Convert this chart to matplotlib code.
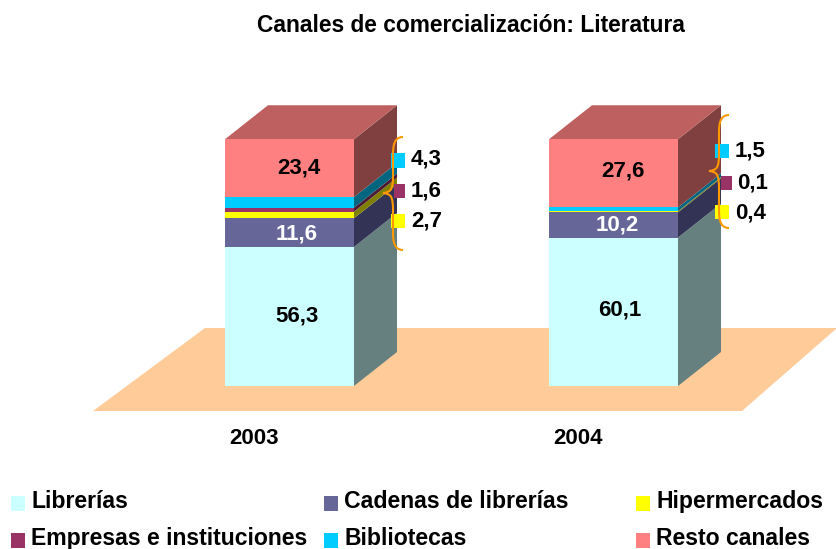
import matplotlib
matplotlib.use("Agg")
import matplotlib.pyplot as plt
from matplotlib.patches import Polygon, PathPatch, Rectangle
from matplotlib.path import Path
from matplotlib.transforms import Affine2D

years = ["2003", "2004"]
channels = ["Librerías", "Cadenas de librerías", "Hipermercados",
            "Empresas e instituciones", "Bibliotecas", "Resto canales"]
values_2003 = [56.3, 11.6, 2.7, 1.6, 4.3, 23.4]
values_2004 = [60.1, 10.2, 0.4, 0.1, 1.5, 27.6]
series = [values_2003, values_2004]
front_colors = ["#CCFFFF", "#666699", "#FFFF00", "#993366", "#00CCFF", "#FF8080"]
side_colors = ["#668080", "#333355", "#808000", "#4D1A33", "#006680", "#804040"]
top_color = "#BF6060"
floor_color = "#FFCC99"
brace_color = "#FF9900"
title = "Canales de comercialización: Literatura"

W, H = 837, 549
FONT = "Liberation Sans"
fig = plt.figure(figsize=(W / 100, H / 100), dpi=100, facecolor="white")
ax = fig.add_axes([0, 0, 1, 1])
# x: category index, y: percent
ax.set_xlim(-289.5 / 324, (W - 289.5) / 324)
ax.set_ylim(-(H - 386) / 2.47, 386 / 2.47)
ax.axis("off")
px = Affine2D().scale(1 / W, -1 / H).translate(0, 1) + fig.transFigure

ax.add_patch(Polygon([(93, 411), (205, 328), (837, 328), (742, 411)],
                     closed=True, fc=floor_color, ec="none", transform=px, zorder=1))

bw = 129 / 324
ddx = 43 / 324
ddy = 34 / 2.47

# label offsets in pixels (right, up), per bar and stack segment
label_off = [{0: (7, 0), 1: (7, -1.5), 5: (9, 0)},
             {0: (6.5, 2), 1: (4, -0.5), 5: (9, 2)}]
label_colors = ["black", "white", None, None, None, "black"]

for i, vals in enumerate(series):
    x0, x1 = i - bw / 2, i + bw / 2
    base = 0.0
    for j, v in enumerate(vals):
        top = base + v
        ax.add_patch(Polygon([(x1, base), (x1 + ddx, base + ddy), (x1 + ddx, top + ddy), (x1, top)],
                             closed=True, fc=side_colors[j], ec="none", lw=0, zorder=3))
        ax.add_patch(Rectangle((x0, base), bw, v, fc=front_colors[j], ec="none", lw=0, zorder=4))
        if label_colors[j]:
            ox, oy = label_off[i][j]
            ax.text(i + ox / 324, (base + top) / 2 + oy / 2.47, f"{v:.1f}".replace(".", ","),
                    color=label_colors[j], ha="center", va="center", fontsize=16,
                    fontweight="bold", family=FONT, zorder=6)
        base = top
    ax.add_patch(Polygon([(x0, base), (x1, base), (x1 + ddx, base + ddy), (x0 + ddx, base + ddy)],
                         closed=True, fc=top_color, ec="none", lw=0, zorder=3))
    ax.text(i - 35 / 324, -52 / 2.47, years[i], ha="center", va="center", fontsize=16,
            fontweight="bold", family=FONT, zorder=6)


def brace(xs, xe, xt, y0, ym, y1):
    """Curly brace: spine at xs, ends at xe, tip at xt."""
    r = 9
    verts = [(xe, y0), (xs + 1, y0), (xs, y0 + r), (xs, y0 + 2 * r),
             (xs, ym - 2 * r), (xs, ym - 3), (xs - 2, ym - 1), (xt, ym),
             (xs - 2, ym + 1), (xs, ym + 3), (xs, ym + 2 * r),
             (xs, y1 - 2 * r), (xs, y1 - r), (xs + 1, y1), (xe, y1)]
    codes = [Path.MOVETO, Path.CURVE4, Path.CURVE4, Path.CURVE4,
             Path.LINETO, Path.CURVE4, Path.CURVE4, Path.CURVE4,
             Path.CURVE4, Path.CURVE4, Path.CURVE4,
             Path.LINETO, Path.CURVE4, Path.CURVE4, Path.CURVE4]
    ax.add_patch(PathPatch(Path(verts, codes), fc="none", ec=brace_color, lw=1.5,
                           transform=px, zorder=8))


# small-share callouts: (index into channels, square x0, x1, y0, y1, text x, text y)
callouts = [
    [(4, 391, 405, 153, 168, 411, 159), (3, 394, 405, 184, 198, 411, 190), (2, 391, 405, 214, 228, 411, 220)],
    [(4, 715, 729, 144, 158, 735, 150), (3, 721, 732, 176, 190, 737, 182), (2, 715, 729, 205, 219, 735, 212)],
]
for i, group in enumerate(callouts):
    for j, sx0, sx1, sy0, sy1, tx, ty in group:
        ax.add_patch(Rectangle((sx0, sy0), sx1 - sx0, sy1 - sy0, fc=front_colors[j], ec="none",
                               transform=px, zorder=7))
        ax.text(tx, ty + 0.5, f"{series[i][j]:.1f}".replace(".", ","), transform=px, ha="left", va="center",
                fontsize=16, fontweight="bold", family=FONT, zorder=9)
brace(393, 403, 383, 137, 193, 250)
brace(719, 729, 709, 115, 171, 228)

ax.text(471, 25, title, transform=px, ha="center", va="center", fontsize=16.4,
        fontweight="bold", family=FONT)

legend_pos = [(11, 496), (324, 496), (636, 496), (11, 533), (324, 533), (636, 533)]
for name, color, (lx, ly) in zip(channels, front_colors, legend_pos):
    ax.add_patch(Rectangle((lx, ly), 14, 14.5, fc=color, ec="none", transform=px, zorder=5))
    ax.text(lx + 20.5, ly + 5.5, name, transform=px, ha="left", va="center", fontsize=16.6,
            fontweight="bold", family=FONT)

fig.savefig("out.png", dpi=100, facecolor="white")
